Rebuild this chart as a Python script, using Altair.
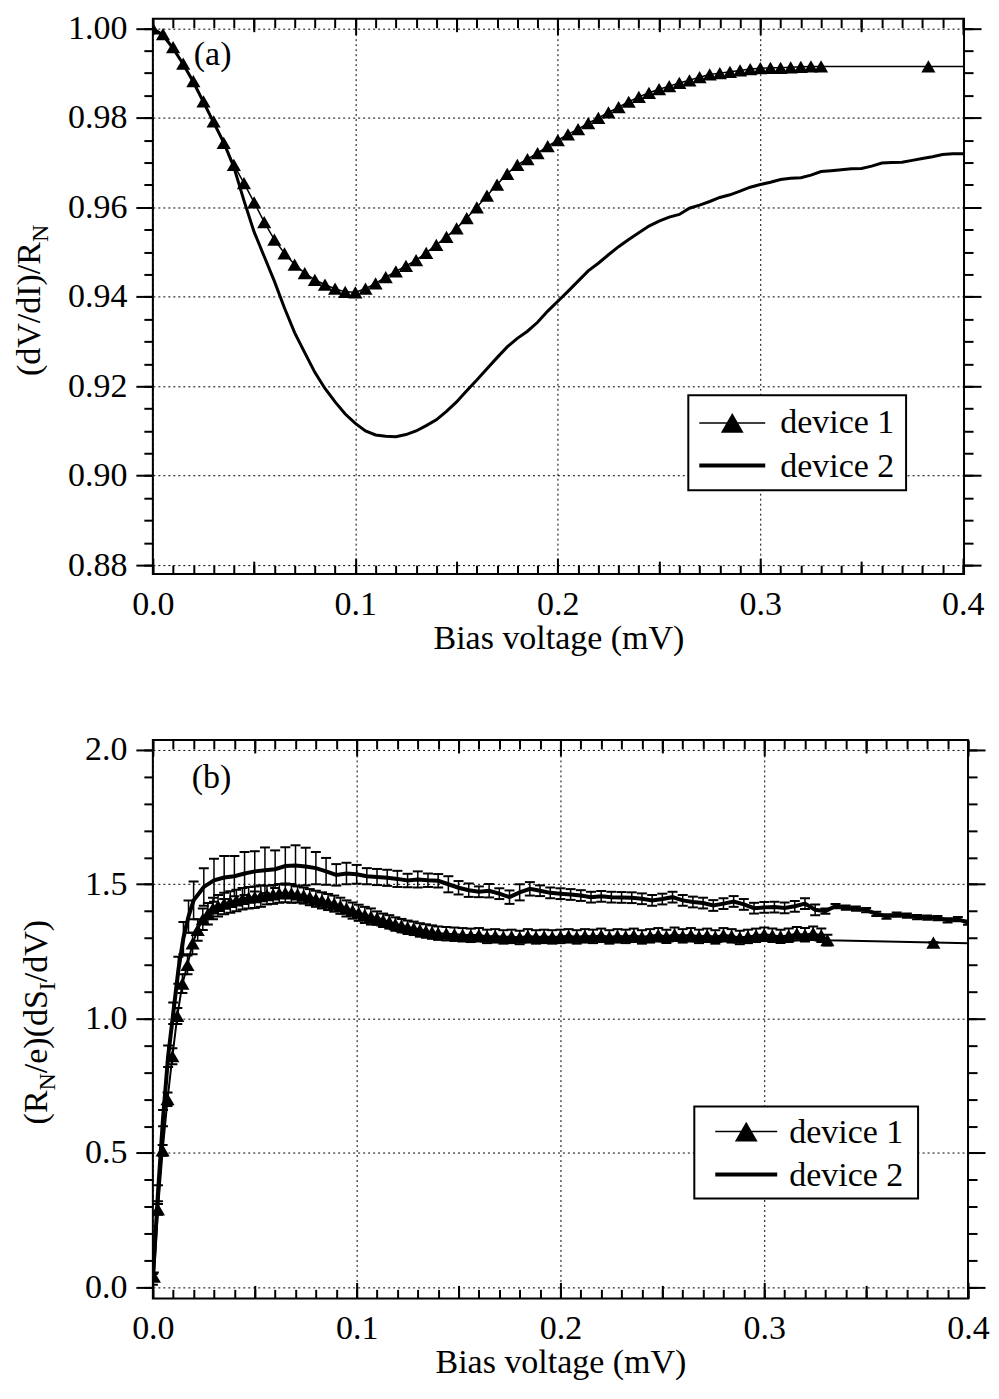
import altair as alt
import pandas as pd

FONT = "Liberation Serif"
FS = 34
SUB_FS = 24

# ---------------- panel (a): (dV/dI)/R_N vs bias ----------------
a_dev1_v = [0.000, 0.005, 0.010, 0.015, 0.020, 0.025, 0.030, 0.035, 0.040, 0.045,
            0.050, 0.055, 0.060, 0.065, 0.070, 0.075, 0.080, 0.085, 0.090, 0.095,
            0.100, 0.105, 0.110, 0.115, 0.120, 0.125, 0.130, 0.135, 0.140, 0.145,
            0.150, 0.155, 0.160, 0.165, 0.170, 0.175, 0.180, 0.185, 0.190, 0.195,
            0.200, 0.205, 0.210, 0.215, 0.220, 0.225, 0.230, 0.235, 0.240, 0.245,
            0.250, 0.255, 0.260, 0.265, 0.270, 0.275, 0.280, 0.285, 0.290, 0.295,
            0.300, 0.305, 0.310, 0.315, 0.320, 0.325, 0.330, 0.383, 0.435]
a_dev1_r = [1.0000, 0.9987, 0.9958, 0.9921, 0.9882, 0.9837, 0.9792, 0.9744, 0.9695, 0.9654,
            0.9611, 0.9567, 0.9528, 0.9497, 0.9472, 0.9453, 0.9438, 0.9427, 0.9418, 0.9411,
            0.9410, 0.9418, 0.9430, 0.9444, 0.9457, 0.9469, 0.9482, 0.9498, 0.9516, 0.9534,
            0.9553, 0.9576, 0.9600, 0.9626, 0.9651, 0.9675, 0.9695, 0.9708, 0.9721, 0.9737,
            0.9750, 0.9763, 0.9775, 0.9788, 0.9800, 0.9812, 0.9824, 0.9836, 0.9847, 0.9856,
            0.9864, 0.9871, 0.9878, 0.9884, 0.9891, 0.9897, 0.9900, 0.9903, 0.9906, 0.9909,
            0.9911, 0.9912, 0.9912, 0.9913, 0.9914, 0.9915, 0.9915, 0.9915, 0.9915]

a_dev2_v = [0.000, 0.005, 0.010, 0.015, 0.020, 0.025, 0.030, 0.035, 0.040, 0.045,
            0.050, 0.055, 0.060, 0.065, 0.070, 0.075, 0.080, 0.085, 0.090, 0.095,
            0.100, 0.105, 0.110, 0.115, 0.120, 0.125, 0.130, 0.135, 0.140, 0.145,
            0.150, 0.155, 0.160, 0.165, 0.170, 0.175, 0.180, 0.185, 0.190, 0.195,
            0.200, 0.205, 0.210, 0.215, 0.220, 0.225, 0.230, 0.235, 0.240, 0.245,
            0.250, 0.255, 0.260, 0.265, 0.270, 0.275, 0.280, 0.285, 0.290, 0.295,
            0.300, 0.305, 0.310, 0.315, 0.320, 0.325, 0.330, 0.335, 0.340, 0.345,
            0.350, 0.355, 0.360, 0.365, 0.370, 0.375, 0.380, 0.385, 0.390, 0.395,
            0.400, 0.405]
a_dev2_r = [1.0000, 0.9985, 0.9955, 0.9920, 0.9880, 0.9835, 0.9790, 0.9745, 0.9690, 0.9615,
            0.9545, 0.9490, 0.9435, 0.9375, 0.9320, 0.9275, 0.9231, 0.9195, 0.9165, 0.9138,
            0.9117, 0.9100, 0.9091, 0.9088, 0.9087, 0.9092, 0.9100, 0.9112, 0.9125, 0.9144,
            0.9165, 0.9190, 0.9214, 0.9239, 0.9264, 0.9288, 0.9307, 0.9323, 0.9343, 0.9368,
            0.9390, 0.9412, 0.9435, 0.9458, 0.9475, 0.9494, 0.9512, 0.9528, 0.9543, 0.9558,
            0.9569, 0.9578, 0.9584, 0.9598, 0.9605, 0.9613, 0.9622, 0.9628, 0.9636, 0.9645,
            0.9651, 0.9656, 0.9662, 0.9665, 0.9666, 0.9672, 0.9680, 0.9682, 0.9684, 0.9686,
            0.9687, 0.9692, 0.9699, 0.9700, 0.9701, 0.9705, 0.9709, 0.9713, 0.9718, 0.9720,
            0.9720, 0.9720]

# ---------------- panel (b): (R_N/e)(dS_I/dV) vs bias ----------------
b_dev1_v = [0.0005, 0.0025, 0.0048, 0.0072, 0.0096, 0.0120, 0.0145, 0.0170, 0.0195, 0.0220,
            0.0245, 0.0270, 0.0295, 0.0320,
            0.035, 0.038, 0.041, 0.044, 0.047, 0.050, 0.053, 0.056, 0.059, 0.062,
            0.065, 0.068, 0.071, 0.074, 0.077, 0.080, 0.083, 0.086, 0.089, 0.092,
            0.095, 0.098, 0.101, 0.104, 0.107, 0.110, 0.113, 0.116, 0.119, 0.122,
            0.125, 0.128, 0.131, 0.134, 0.137, 0.140,
            0.144, 0.148, 0.152, 0.156, 0.160, 0.164, 0.168, 0.172, 0.176, 0.180,
            0.184, 0.188, 0.192, 0.196, 0.200, 0.204, 0.208, 0.212, 0.216, 0.220,
            0.224, 0.228, 0.232, 0.236, 0.240, 0.244, 0.248, 0.252, 0.256, 0.260,
            0.264, 0.268, 0.272, 0.276, 0.280, 0.284, 0.288, 0.292, 0.296, 0.300,
            0.304, 0.308, 0.312, 0.316, 0.320, 0.324, 0.328,
            0.331, 0.383, 0.435]
b_dev1_s = [0.04, 0.29, 0.51, 0.70, 0.86, 1.01, 1.13, 1.20, 1.28, 1.33,
            1.37, 1.39, 1.41, 1.42,
            1.428, 1.434, 1.440, 1.446, 1.450, 1.452, 1.456, 1.460, 1.462, 1.466,
            1.468, 1.466, 1.462, 1.458, 1.452, 1.446, 1.440, 1.434, 1.428, 1.420,
            1.410, 1.402, 1.394, 1.386, 1.380, 1.374, 1.366, 1.360, 1.352, 1.346,
            1.340, 1.336, 1.330, 1.326, 1.322, 1.318,
            1.316, 1.314, 1.312, 1.310, 1.312, 1.306, 1.308, 1.304, 1.306, 1.302,
            1.308, 1.304, 1.306, 1.304, 1.306, 1.308, 1.304, 1.308, 1.306, 1.310,
            1.304, 1.308, 1.306, 1.310, 1.304, 1.308, 1.312, 1.306, 1.314, 1.308,
            1.312, 1.306, 1.310, 1.304, 1.312, 1.308, 1.302, 1.306, 1.310, 1.314,
            1.310, 1.306, 1.310, 1.316, 1.312, 1.318, 1.310,
            1.292, 1.283, 1.276]
b_dev1_e = [0.015, 0.02, 0.02, 0.025, 0.03, 0.03, 0.035, 0.035, 0.04, 0.04,
            0.04, 0.04, 0.04, 0.04,
            0.04, 0.04, 0.04, 0.04, 0.04, 0.04, 0.04, 0.035, 0.035, 0.035,
            0.035, 0.035, 0.03, 0.03, 0.03, 0.03, 0.03, 0.03, 0.03, 0.03,
            0.03, 0.03, 0.03, 0.03, 0.03, 0.025, 0.025, 0.025, 0.025, 0.025,
            0.025, 0.025, 0.025, 0.025, 0.025, 0.025,
            0.025, 0.025, 0.025, 0.025, 0.025, 0.025, 0.025, 0.025, 0.025, 0.025,
            0.025, 0.025, 0.025, 0.025, 0.025, 0.025, 0.025, 0.025, 0.025, 0.025,
            0.025, 0.025, 0.025, 0.025, 0.025, 0.025, 0.025, 0.025, 0.025, 0.025,
            0.025, 0.025, 0.025, 0.025, 0.025, 0.025, 0.025, 0.025, 0.025, 0.025,
            0.025, 0.025, 0.025, 0.025, 0.025, 0.025, 0.025,
            0.02, 0.0, 0.0]

b_dev2_v = [0.0, 0.0025, 0.005, 0.0075, 0.010, 0.0125, 0.015, 0.0175, 0.020,
            0.025, 0.030, 0.035, 0.040, 0.045, 0.050, 0.055, 0.060, 0.065, 0.070,
            0.075, 0.080, 0.085, 0.090, 0.095, 0.100, 0.105, 0.110, 0.115, 0.120,
            0.125, 0.130, 0.135, 0.140, 0.145, 0.150, 0.155, 0.160, 0.165, 0.170,
            0.175, 0.180, 0.185, 0.190, 0.195, 0.200, 0.205, 0.210, 0.215, 0.220,
            0.225, 0.230, 0.235, 0.240, 0.245, 0.250, 0.255, 0.260, 0.265, 0.270,
            0.275, 0.280, 0.285, 0.290, 0.295, 0.300, 0.305, 0.310, 0.315, 0.320,
            0.325, 0.330, 0.335, 0.340, 0.345, 0.350, 0.355, 0.360, 0.365, 0.370,
            0.375, 0.380, 0.385, 0.390, 0.395, 0.400]
b_dev2_s = [0.03, 0.35, 0.63, 0.86, 1.02, 1.18, 1.30, 1.38, 1.44,
            1.490, 1.515, 1.525, 1.530, 1.540, 1.548, 1.552, 1.556, 1.568, 1.570,
            1.566, 1.560, 1.548, 1.535, 1.540, 1.537, 1.530, 1.527, 1.524, 1.520,
            1.514, 1.518, 1.515, 1.513, 1.500, 1.487, 1.478, 1.472, 1.476, 1.465,
            1.452, 1.470, 1.483, 1.476, 1.468, 1.465, 1.462, 1.458, 1.452, 1.455,
            1.452, 1.451, 1.450, 1.446, 1.440, 1.445, 1.452, 1.440, 1.434, 1.430,
            1.421, 1.428, 1.436, 1.425, 1.411, 1.414, 1.415, 1.412, 1.418, 1.428,
            1.405, 1.400, 1.419, 1.413, 1.409, 1.404, 1.390, 1.380, 1.387, 1.383,
            1.378, 1.376, 1.374, 1.366, 1.370, 1.357]
b_dev2_e = [0.02, 0.03, 0.03, 0.04, 0.04, 0.05, 0.06, 0.06, 0.07,
            0.07, 0.08, 0.08, 0.075, 0.08, 0.075, 0.085, 0.07, 0.07, 0.075,
            0.07, 0.06, 0.05, 0.04, 0.04, 0.035, 0.03, 0.03, 0.03, 0.03,
            0.025, 0.03, 0.025, 0.025, 0.03, 0.025, 0.025, 0.02, 0.025, 0.02,
            0.025, 0.03, 0.025, 0.02, 0.02, 0.02, 0.02, 0.02, 0.02, 0.02,
            0.02, 0.02, 0.02, 0.02, 0.02, 0.02, 0.02, 0.02, 0.02, 0.02,
            0.02, 0.02, 0.02, 0.02, 0.02, 0.02, 0.02, 0.02, 0.02, 0.02,
            0.02, 0.01, 0.008, 0.008, 0.008, 0.008, 0.008, 0.008, 0.008, 0.008,
            0.008, 0.008, 0.008, 0.008, 0.008, 0.008]

# ---------------- ticks ----------------
x_major = [0.0, 0.1, 0.2, 0.3, 0.4]
x_mid = [0.05, 0.15, 0.25, 0.35]
x_minor = [round(0.01 * i, 2) for i in range(41)]
a_y_major = [0.88, 0.90, 0.92, 0.94, 0.96, 0.98, 1.00]
a_y_minor = [round(0.88 + 0.005 * i, 3) for i in range(25)]
b_y_major = [0.0, 0.5, 1.0, 1.5, 2.0]
b_y_minor = [round(0.1 * i, 1) for i in range(21)]

series_names = ["device 1", "device 2"]
x_title = "Bias voltage (mV)"

# Times / Liberation Serif advance widths (em) for the title glyphs
GLYPH_W = {"(": 0.333, ")": 0.333, "/": 0.278, "d": 0.5, "V": 0.722, "I": 0.333,
           "R": 0.667, "N": 0.722, "e": 0.444, "S": 0.556}

one = pd.DataFrame({"k": [0]})


def ax(**kw):
    base = dict(labels=False, grid=False, domain=False, title=None,
                tickColor="black", tickWidth=2, ticks=True)
    base.update(kw)
    return alt.Axis(**base)


def x_axes(h):
    lab = ax(orient="bottom", values=x_major, format=".1f", labels=True,
             labelFont=FONT, labelFontSize=FS, labelColor="black", labelPadding=29,
             labelOverlap=False, labelFlush=False, tickSize={"expr": "-16"},
             grid=True, gridColor="black", gridDash=[2, 3], gridWidth=1,
             title=x_title, titleFont=FONT, titleFontSize=FS, titleFontWeight="normal",
             titleColor="black", titlePadding=0)
    return [lab,
            ax(orient="bottom", values=x_mid, tickSize={"expr": "-13"}),
            ax(orient="bottom", values=x_minor, tickSize={"expr": "-9"}),
            # the same bottom-oriented axes moved onto the top edge: ticks point inward
            ax(orient="bottom", offset=-h, values=x_major, tickSize=16),
            ax(orient="bottom", offset=-h, values=x_mid, tickSize=13),
            ax(orient="bottom", offset=-h, values=x_minor, tickSize=9)]


def y_axes(major, minor, fmt):
    lab = ax(orient="left", values=major, format=fmt, labels=True,
             labelFont=FONT, labelFontSize=FS, labelColor="black", labelPadding=9,
             labelOverlap=False, labelFlush=False, tickSize=17,
             grid=True, gridColor="black", gridDash=[2, 3], gridWidth=1)
    return [lab,
            ax(orient="left", values=minor, tickSize=9),
            ax(orient="right", values=major, tickSize=17),
            ax(orient="right", values=minor, tickSize=9)]


def vtitle(pieces, x_base, y_center):
    lens = [sum(GLYPH_W[c] for c in t) * (SUB_FS if sub else FS) for t, sub in pieces]
    y = y_center + sum(lens) / 2
    out = []
    for (t, sub), L in zip(pieces, lens):
        out.append(alt.Chart(one).mark_text(angle=270, align="left", baseline="alphabetic",
                                            font=FONT, fontSize=SUB_FS if sub else FS,
                                            color="black")
                   .encode(x=alt.value(x_base + (8 if sub else 0)), y=alt.value(y),
                           text=alt.value(t)))
        y -= L
    return out


def legend(bx0, bx1, by0, by1, lx0, lx1, tri_x, tx, l1, t1, l2, t2):
    box = alt.Chart(one).mark_rect(fill="white", stroke="black", strokeWidth=2).encode(
        x=alt.value(bx0), x2=alt.value(bx1), y=alt.value(by0), y2=alt.value(by1))
    r1 = alt.Chart(one).mark_rule(color="black", strokeWidth=1.5).encode(
        x=alt.value(lx0), x2=alt.value(lx1), y=alt.value(l1))
    tri = alt.Chart(one).mark_point(shape="triangle-up", filled=True, color="black",
                                    size=520, opacity=1).encode(
        x=alt.value(tri_x), y=alt.value(l1))
    r2 = alt.Chart(one).mark_rule(color="black", strokeWidth=4).encode(
        x=alt.value(lx0), x2=alt.value(lx1), y=alt.value(l2))
    txt1 = alt.Chart(one).mark_text(align="left", baseline="alphabetic", font=FONT,
                                    fontSize=FS, color="black").encode(
        x=alt.value(tx), y=alt.value(t1), text=alt.value(series_names[0]))
    txt2 = alt.Chart(one).mark_text(align="left", baseline="alphabetic", font=FONT,
                                    fontSize=FS, color="black").encode(
        x=alt.value(tx), y=alt.value(t2), text=alt.value(series_names[1]))
    return [box, r1, tri, r2, txt1, txt2]


def panel_label(txt, x, y):
    return alt.Chart(one).mark_text(align="left", baseline="alphabetic", font=FONT,
                                    fontSize=FS, color="black").encode(
        x=alt.value(x), y=alt.value(y), text=alt.value(txt))


# ---------------- panel (a) ----------------
WA, HA = 812, 556
xs_a = alt.Scale(domain=[0, 0.4006], nice=False, zero=False)
ys_a = alt.Scale(domain=[0.878, 1.00217], nice=False, zero=False)
da1 = pd.DataFrame({"v": a_dev1_v, "r": a_dev1_r})
da2 = pd.DataFrame({"v": a_dev2_v, "r": a_dev2_r})
xa = x_axes(HA)
ya = y_axes(a_y_major, a_y_minor, ".2f")


def XA(axis):
    return alt.X("v:Q", scale=xs_a, axis=axis)


def YA(axis):
    return alt.Y("r:Q", scale=ys_a, axis=axis)


a_layers = [
    alt.Chart(da2).mark_line(color="black", strokeWidth=3, clip=True).encode(x=XA(xa[0]), y=YA(ya[0])),
    alt.Chart(da1).mark_line(color="black", strokeWidth=1.5, clip=True).encode(x=XA(xa[1]), y=YA(ya[1])),
    alt.Chart(da1).mark_point(shape="triangle-up", filled=True, color="black", size=200,
                              opacity=1, clip=True).encode(x=XA(xa[2]), y=YA(ya[2])),
    alt.Chart(da2).mark_point(opacity=0, clip=True).encode(x=XA(xa[3]), y=YA(ya[3])),
    alt.Chart(da2).mark_point(opacity=0, clip=True).encode(x=XA(xa[4]), y=YA(None)),
    alt.Chart(da2).mark_point(opacity=0, clip=True).encode(x=XA(xa[5]), y=YA(None)),
    panel_label("(a)", 41, 46.5),
]
a_layers += legend(536, 754, 377, 472, 547, 613, 580, 628, 404.7, 414.7, 447.3, 459)
a_layers += vtitle([("(dV/dI)/R", False), ("N", True)], -113, HA / 2 + 4)

panel_a = alt.layer(*a_layers).resolve_axis(x="independent", y="independent").properties(
    width=WA, height=HA)

# ---------------- panel (b) ----------------
WB, HB = 816, 559
xs_b = alt.Scale(domain=[0, 0.4], nice=False, zero=False)
ys_b = alt.Scale(domain=[-0.041, 2.037], nice=False, zero=False)
db1 = pd.DataFrame({"v": b_dev1_v, "s": b_dev1_s, "e": b_dev1_e})
db2 = pd.DataFrame({"v": b_dev2_v, "s": b_dev2_s, "e": b_dev2_e})
xb = x_axes(HB)
yb = y_axes(b_y_major, b_y_minor, ".1f")


def XB(axis):
    return alt.X("v:Q", scale=xs_b, axis=axis)


def YB(field, axis):
    return alt.Y(field, scale=ys_b, axis=axis)


def err_rules(df, xaxis, yaxis):
    return (alt.Chart(df)
            .transform_calculate(lo="datum.s - datum.e", hi="datum.s + datum.e")
            .mark_rule(color="black", strokeWidth=1.5, clip=True)
            .encode(x=XB(xaxis), y=YB("lo:Q", yaxis), y2="hi:Q"))


def err_caps(df, xaxis, yaxis):
    return (alt.Chart(df)
            .transform_calculate(lo="datum.s - datum.e", hi="datum.s + datum.e")
            .transform_fold(["lo", "hi"], as_=["end", "val"])
            .mark_tick(orient="horizontal", size=10, thickness=2, color="black", clip=True,
                       opacity=1)
            .encode(x=XB(xaxis), y=YB("val:Q", yaxis)))


b_layers = [
    err_rules(db1, xb[0], yb[0]),
    err_caps(db1, xb[1], yb[1]),
    alt.Chart(db1).mark_line(color="black", strokeWidth=2, clip=True).encode(x=XB(xb[2]), y=YB("s:Q", yb[2])),
    alt.Chart(db1).mark_point(shape="triangle-up", filled=True, color="black", size=200,
                              opacity=1, clip=True).encode(x=XB(xb[3]), y=YB("s:Q", yb[3])),
    err_rules(db2, xb[4], None),
    err_caps(db2, xb[5], None),
    alt.Chart(db2).mark_line(color="black", strokeWidth=4, clip=True).encode(x=XB(None), y=YB("s:Q", None)),
    panel_label("(b)", 39, 47.8),
]
b_layers += legend(542, 766, 367, 459, 563, 625, 594, 637, 392, 403, 435, 447)
b_layers += vtitle([("(R", False), ("N", True), ("/e)(dS", False), ("I", True), ("/dV)", False)],
                   -106, HB / 2 + 3)

panel_b = alt.layer(*b_layers).resolve_axis(x="independent", y="independent").properties(
    width=WB, height=HB)

chart = (alt.vconcat(panel_a, panel_b, spacing=166, bounds="flush")
         .configure_view(stroke="black", strokeWidth=2)
         .properties(padding={"left": 4, "top": 1, "right": 0, "bottom": 0},
                     background="white"))

chart.save("out.html", embed_options={"renderer": "svg", "actions": False})
